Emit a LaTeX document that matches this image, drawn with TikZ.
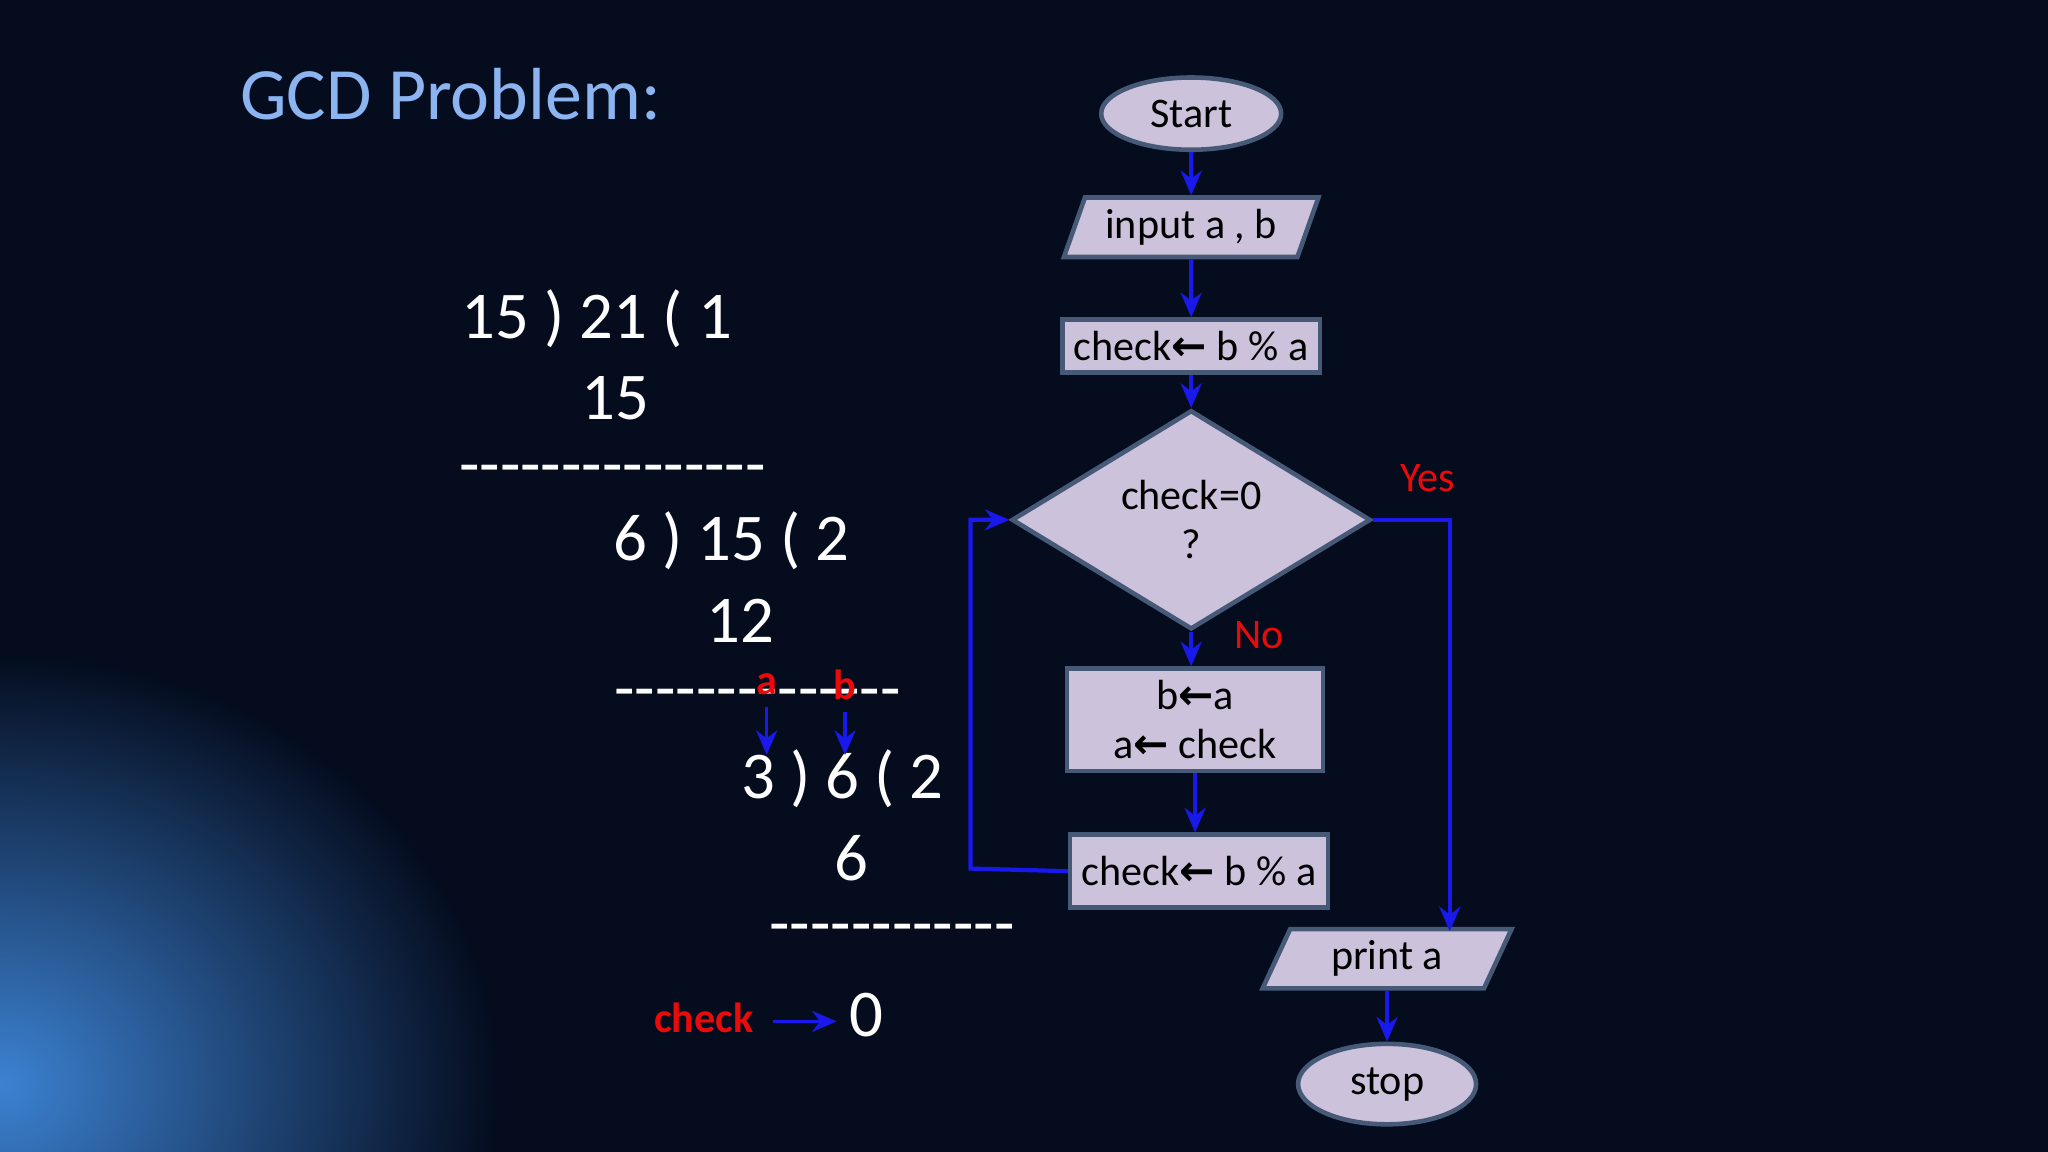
\documentclass[tikz,border=0pt]{standalone}
\usepackage{fontspec}
\setmainfont{Carlito}
\newfontfamily\arrowfont{DejaVu Sans}
\usetikzlibrary{shapes.geometric, arrows.meta, positioning}
\definecolor{bgnavy}{RGB}{4,12,30}
\definecolor{glowblue}{RGB}{60,130,210}
\definecolor{titleblue}{RGB}{140,180,240}
\definecolor{boxfill}{RGB}{205,194,220}
\definecolor{boxline}{RGB}{70,90,120}
\definecolor{arrowblue}{RGB}{25,25,235}
\definecolor{labelred}{RGB}{235,10,10}
\newcommand{\getsarrow}{{\arrowfont\bfseries ←}}

\begin{document}
\begin{tikzpicture}[x=0.01306cm, y=-0.01306cm,
        box/.style={rectangle, draw=boxline, fill=boxfill, line width=1.3pt, minimum width=2.56cm, font=\fontsize{12}{14}\selectfont},
        term/.style={ellipse, draw=boxline, fill=boxfill, line width=1.3pt, font=\fontsize{12}{14}\selectfont},
        io/.style={trapezium, trapezium left angle=72, trapezium right angle=108, trapezium stretches=true, draw=boxline, fill=boxfill, line width=1.3pt, minimum width=2.55cm, minimum height=0.52cm, font=\fontsize{12}{14}\selectfont},
        decide/.style={diamond, draw=boxline, fill=boxfill, line width=1.3pt, minimum width=3.59cm, minimum height=1.65cm, inner sep=0pt, align=center, font=\fontsize{12}{14}\selectfont},
        flow/.style={-{Stealth[length=7pt,width=6pt]}, arrowblue, line width=1.2pt},
        calc/.style={text=white, font=\fontsize{19}{22}\selectfont},
        tag/.style={text=labelred, font=\fontsize{12}{14}\selectfont}
    ]
        % background
        \clip (0,0) rectangle (1568,882);
        \fill[bgnavy] (0,0) rectangle (1568,882);
        \shade[inner color=glowblue, outer color=bgnavy] (0,830) ellipse [x radius=5cm, y radius=4.3cm];

        \node[text=titleblue, font=\fontsize{21}{25}\selectfont] (title) at (345,72) {GCD Problem:};

        % division steps
        \node[calc] (d1) at (457,244) {15 ) 21 ( 1};
        \node[calc] (m1) at (471,305) {15};
        \node[calc] (l1) at (469,364) {-{}-{}-{}-{}-{}-{}-{}-{}-{}-{}-{}-{}-{}-{}-};
        \node[calc] (d2) at (560,414) {6 ) 15 ( 2};
        \node[calc] (m2) at (567,475) {12};
        \node[calc] (l2) at (580,536) {-{}-{}-{}-{}-{}-{}-{}-{}-{}-{}-{}-{}-{}-};
        \node[calc] (d3) at (645,596) {3 ) 6 ( 2};
        \node[calc] (m3) at (652,657) {6};
        \node[calc] (l3) at (683,716) {-{}-{}-{}-{}-{}-{}-{}-{}-{}-{}-{}-};
        \node[tag, font=\fontsize{12}{14}\selectfont\bfseries] (ta) at (587,524) {a};
        \node[tag, font=\fontsize{12}{14}\selectfont\bfseries] (tb) at (647,524) {b};
        \node[tag, font=\fontsize{12}{14}\selectfont\bfseries] (chk) at (539,779) {check};
        \node[calc] (zero) at (663,777) {0};
        \coordinate (qa) at (587,578);
        \coordinate (qb) at (647,578);
        \coordinate (qc) at (592,782);
        \draw[flow, line width=0.9pt] (ta.south) -- (qa);
        \draw[flow, line width=0.9pt] (tb.south) -- (qb);
        \draw[flow, line width=0.9pt] (qc) -- (zero.west |- qc);

        % flowchart
        \node[term, minimum width=1.8cm, minimum height=0.5cm] (start) at (912,87) {Start};
        \node[io] (input) at (912,174) {input a , b};
        \node[box, minimum height=0.52cm] (chk1) at (912,265) {check\getsarrow\ b \% a};
        \node[decide] (test) at (912,398) {check=0\\?};
        \node[box, minimum height=0.97cm, align=center] (swap) at (915,551) {b\getsarrow a\\a\getsarrow\ check};
        \node[box, minimum height=0.73cm] (chk2) at (918,667) {check\getsarrow\ b \% a};
        \node[io, minimum width=2.5cm] (print) at (1062,734) {print a};
        \node[term, minimum width=1.78cm, minimum height=0.68cm] (stop) at (1062,830) {stop};
        \node[tag] (yes) at (1093,366) {Yes};
        \node[tag] (no) at (964,486) {No};

        \draw[flow] (start) -- (input);
        \draw[flow] (input) -- (chk1);
        \draw[flow] (chk1) -- (test);
        \draw[flow] (test.south) -- (swap.north -| test.south);
        \draw[flow] (swap) -- (chk2.north -| swap.south);
        \draw[flow] (chk2.west) -- (743,665) -- (743,398) -- (test.west);
        \draw[flow] (test.east) -- (1110,398) -- (1110,713);
        \draw[flow] (print) -- (stop);
    \end{tikzpicture}
\end{document}
